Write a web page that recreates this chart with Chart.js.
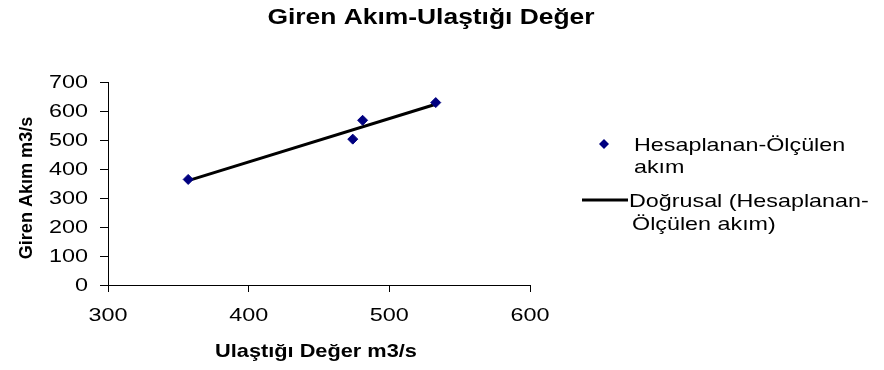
<!DOCTYPE html>
<html>
<head>
<meta charset="utf-8">
<script src="https://cdn.jsdelivr.net/npm/chart.js@4/dist/chart.umd.min.js"></script>
<style>
  html, body { margin: 0; padding: 0; background: #ffffff; }
  #wrap { width: 884px; height: 370px; position: relative; }
</style>
</head>
<body>
<div id="wrap"><canvas id="c" width="884" height="370"></canvas></div>
<script>
// Labels
const chartTitle = 'Giren Akım-Ulaştığı Değer';
const xAxisTitle = 'Ulaştığı Değer m3/s';
const yAxisTitle = 'Giren Akım m3/s';
const seriesLegend = ['Hesaplanan-Ölçülen', 'akım'];
const trendLegend = ['Doğrusal (Hesaplanan-', 'Ölçülen akım)'];

// Measured pairs: reached value (x) vs. inflow (y), m3/s
const ulastigiDeger = [357, 474, 481, 533];
const girenAkim = [364, 503, 568, 629];

// Axis ticks
const xTicks = [300, 400, 500, 600];
const yTicks = [0, 100, 200, 300, 400, 500, 600, 700];

// Least-squares linear trend ("Doğrusal") through the measured pairs
function linearFit(xs, ys) {
  const n = xs.length;
  const mx = xs.reduce((a, b) => a + b, 0) / n;
  const my = ys.reduce((a, b) => a + b, 0) / n;
  let sxy = 0, sxx = 0;
  for (let i = 0; i < n; i++) {
    sxy += (xs[i] - mx) * (ys[i] - my);
    sxx += (xs[i] - mx) * (xs[i] - mx);
  }
  const slope = sxy / sxx;
  return { slope, intercept: my - slope * mx };
}
const fit = linearFit(ulastigiDeger, girenAkim);
const xMin = Math.min(...ulastigiDeger);
const xMax = Math.max(...ulastigiDeger);
const trendPoints = [xMin, xMax].map(x => ({ x, y: fit.intercept + fit.slope * x }));

const measuredPoints = ulastigiDeger.map((x, i) => ({ x, y: girenAkim[i] }));

const FONT = "'Liberation Sans', Arial, sans-serif";
const NAVY = '#000080';

// Text drawn with a horizontal stretch factor (wide Excel-style lettering)
function drawStretched(ctx, text, x, y, sx, font, align) {
  ctx.save();
  ctx.font = font;
  ctx.fillStyle = '#000';
  ctx.textAlign = align || 'left';
  ctx.textBaseline = 'alphabetic';
  ctx.translate(x, y);
  ctx.scale(sx, 1);
  ctx.fillText(text, 0, 0);
  ctx.restore();
}

const decorations = {
  id: 'decorations',
  afterDraw(chart) {
    const ctx = chart.ctx;
    const area = chart.chartArea;
    const xs = chart.scales.x;
    const ys = chart.scales.y;
    ctx.save();

    // Tick labels, placed through the scales
    const tickFont = '18px ' + FONT;
    xs.ticks.forEach(t => {
      drawStretched(ctx, String(t.value), xs.getPixelForValue(t.value), xs.top + 36, 1.3, tickFont, 'center');
    });
    ys.ticks.forEach(t => {
      drawStretched(ctx, String(t.value), ys.right - 20, ys.getPixelForValue(t.value) + 6, 1.3, tickFont, 'right');
    });

    // Title
    drawStretched(ctx, chartTitle, 431, 24, 1.2, 'bold 22px ' + FONT, 'center');

    // X axis title
    drawStretched(ctx, xAxisTitle, (area.left + area.right) / 2 - 3, 357, 1.17, 'bold 18.6px ' + FONT, 'center');

    // Y axis title (rotated)
    ctx.save();
    ctx.translate(31.5, 188);
    ctx.rotate(-Math.PI / 2);
    ctx.scale(0.95, 1);
    ctx.font = 'bold 19px ' + FONT;
    ctx.fillStyle = '#000';
    ctx.textAlign = 'center';
    ctx.textBaseline = 'alphabetic';
    ctx.fillText(yAxisTitle, 0, 0);
    ctx.restore();

    // Legend: series marker
    const mx = 604, my = 144, r = 5;
    ctx.beginPath();
    ctx.moveTo(mx - r, my);
    ctx.lineTo(mx, my - r);
    ctx.lineTo(mx + r, my);
    ctx.lineTo(mx, my + r);
    ctx.closePath();
    ctx.fillStyle = NAVY;
    ctx.fill();

    const legendFont = '18.5px ' + FONT;
    drawStretched(ctx, seriesLegend[0], 634, 151, 1.26, legendFont);
    drawStretched(ctx, seriesLegend[1], 634, 173, 1.26, legendFont);

    // Legend: trend line sample
    ctx.beginPath();
    ctx.moveTo(582, 200);
    ctx.lineTo(628, 200);
    ctx.strokeStyle = '#000';
    ctx.lineWidth = 3;
    ctx.stroke();

    drawStretched(ctx, trendLegend[0], 629, 207, 1.26, legendFont);
    drawStretched(ctx, trendLegend[1], 632, 230, 1.26, legendFont);

    ctx.restore();
  }
};

new Chart(document.getElementById('c'), {
  type: 'scatter',
  data: {
    datasets: [
      {
        label: seriesLegend.join(' '),
        data: measuredPoints,
        pointStyle: 'rectRot',
        pointRadius: 5,
        pointBorderWidth: 1,
        backgroundColor: NAVY,
        borderColor: NAVY,
        showLine: false
      },
      {
        label: trendLegend.join(' '),
        data: trendPoints,
        showLine: true,
        borderColor: '#000',
        borderWidth: 3,
        pointRadius: 0,
        fill: false
      }
    ]
  },
  options: {
    responsive: false,
    animation: false,
    devicePixelRatio: 1,
    layout: { padding: { left: 0, top: 82, right: 354, bottom: 0 } },
    plugins: {
      legend: { display: false },
      title: { display: false },
      tooltip: { enabled: false }
    },
    scales: {
      x: {
        type: 'linear',
        min: xTicks[0],
        max: xTicks[xTicks.length - 1],
        afterBuildTicks: s => { s.ticks = xTicks.map(v => ({ value: v })); },
        afterFit: s => { s.height = 85; },
        grid: { drawOnChartArea: false, drawTicks: true, tickLength: 7, color: '#000' },
        border: { display: true, color: '#000', width: 1 },
        ticks: { display: false }
      },
      y: {
        type: 'linear',
        min: yTicks[0],
        max: yTicks[yTicks.length - 1],
        afterBuildTicks: s => { s.ticks = yTicks.map(v => ({ value: v })); },
        afterFit: s => { s.width = 108; },
        grid: { drawOnChartArea: false, drawTicks: true, tickLength: 8, color: '#000' },
        border: { display: true, color: '#000', width: 1 },
        ticks: { display: false }
      }
    }
  },
  plugins: [decorations]
});
</script>
</body>
</html>
